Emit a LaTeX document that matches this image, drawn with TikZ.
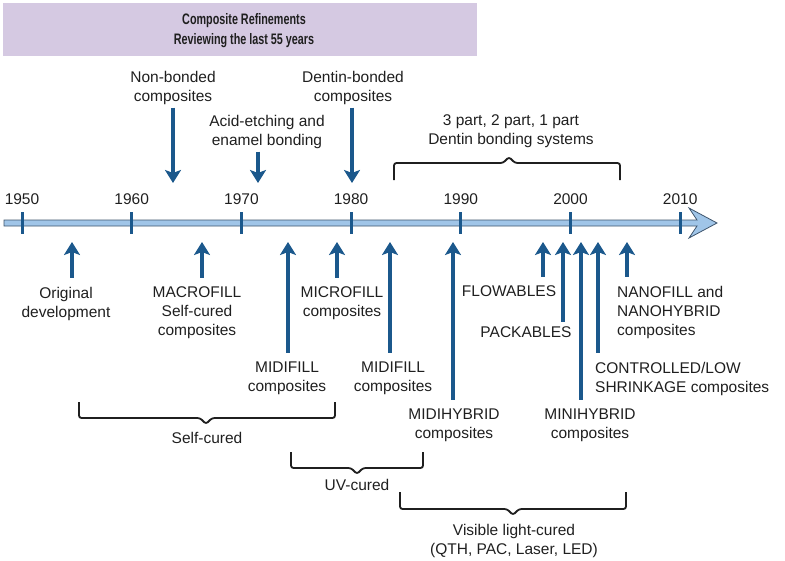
\documentclass[tikz,border=0pt]{standalone}
\usepackage{fontspec}
\setmainfont{Liberation Sans}
\newfontfamily\headfont[FakeStretch=0.71]{Liberation Sans}
\usepackage{tikz}
\usetikzlibrary{arrows.meta, positioning}
\usepackage{xcolor}
\definecolor{tlblue}{RGB}{27,88,140}
\definecolor{barfill}{RGB}{160,197,232}
\definecolor{barline}{RGB}{62,84,108}
\definecolor{headfill}{RGB}{213,201,226}

\begin{document}
\begin{tikzpicture}[
    x=1pt, y=-1pt,
    every node/.style={font=\fontsize{15.5}{19}\selectfont, inner sep=0pt, text=black!88},
    lbl/.style={align=center, anchor=north},
    lbll/.style={align=left, anchor=north west},
    uparrow/.style={-{Stealth[length=13pt, width=16pt, inset=3pt]}, line width=3.3pt, draw=tlblue, shorten <=9pt},
    downarrow/.style={uparrow, shorten <=3pt},
    tick/.style={draw=tlblue, line width=3pt},
    brace/.style={draw=black!88, line width=1.8pt, rounded corners=2.5pt}
]
    \useasboundingbox (0,0) rectangle (785,560);

    % title band
    \fill[headfill] (3,3) rectangle (477,56);
    \node[font=\headfont\bfseries\fontsize{15.2}{20}\selectfont, align=center] (title) at (244,31) {Composite Refinements\\Reviewing the last 55 years};

    % time axis
    \draw[barline, fill=barfill, line width=0.8pt] (4,220) -- (697,220) -- (689,208) -- (717,223) -- (689,238) -- (697,226) -- (4,226) -- cycle;
    \foreach \yr in {1950,1960,...,2010} {
        \coordinate (t\yr) at ({22+(\yr-1950)*10.97},223);
        \draw[tick] (t\yr) ++(0,-11) -- ++(0,22);
        \node[above=18pt of t\yr] (y\yr) {\yr};
    }

    % events above the axis
    \node[lbl] (nonbond) at (173,70.7) {Non-bonded\\composites};
    \node[lbl] (acid) at (267,114.7) {Acid-etching and\\enamel bonding};
    \node[lbl] (dentin) at (353,70.7) {Dentin-bonded\\composites};
    \node[lbl] (dbs) at (511,114.7) {3 part, 2 part, 1 part\\Dentin bonding systems};

    \coordinate (nonbond-tip) at (173,183);
    \coordinate (acid-tip) at (258,183);
    \coordinate (dentin-tip) at (352,183);
    \draw[downarrow] (nonbond.south -| nonbond-tip) -- (nonbond-tip);
    \draw[downarrow] (acid.south -| acid-tip) -- (acid-tip);
    \draw[downarrow] (dentin.south -| dentin-tip) -- (dentin-tip);

    \draw[brace] (394,180) -- (394,163) -- (503,163) -- (509,157) -- (515,163) -- (620,163) -- (620,180);

    % events below the axis
    \node[lbl] (orig) at (66,286.7) {Original\\development};
    \node[lbl] (macro) at (197,286.7) {MACROFILL\\Self-cured\\composites};
    \node[lbl] (micro) at (342,286.7) {MICROFILL\\composites};
    \node[lbl] (midi1) at (287,361.7) {MIDIFILL\\composites};
    \node[lbl] (midi2) at (393,361.7) {MIDIFILL\\composites};
    \node[lbl] (midihyb) at (454,408.7) {MIDIHYBRID\\composites};
    \node[lbl] (flow) at (509,285.7) {FLOWABLES};
    \node[lbl] (pack) at (526,326.7) {PACKABLES};
    \node[lbl] (minihyb) at (590,408.7) {MINIHYBRID\\composites};
    \node[lbll] (ctrl) at (595,361.7) {CONTROLLED/LOW\\SHRINKAGE composites};
    \node[lbll] (nano) at (617,285.7) {NANOFILL and\\NANOHYBRID\\composites};

    \foreach \ev/\xx in {orig/72, macro/202, midi1/288, micro/337, midi2/390, midihyb/453,
                        flow/543, minihyb/581, ctrl/598, nano/627} {
        \coordinate (\ev-tip) at (\xx,242);
        \draw[uparrow] (\ev.north -| \ev-tip) -- (\ev-tip);
    }
    \coordinate (pack-tip) at (563,242);
    \draw[uparrow, shorten <=5pt] (pack.north -| pack-tip) -- (pack-tip);

    % curing groups
    \node[lbl] (selfcured) at (207,431.7) {Self-cured};
    \node[lbl] (uvcured) at (357,478.7) {UV-cured};
    \node[lbl] (vlc) at (514,523.7) {Visible light-cured\\(QTH, PAC, Laser, LED)};

    \draw[brace] (79,402) -- (79,418) -- (200,418) -- (206,424) -- (212,418) -- (335,418) -- (335,402);
    \draw[brace] (291,452) -- (291,468) -- (351,468) -- (357,474) -- (363,468) -- (423,468) -- (423,452);
    \draw[brace] (400,492) -- (400,509) -- (507,509) -- (513,515) -- (519,509) -- (626,509) -- (626,492);
\end{tikzpicture}
\end{document}
